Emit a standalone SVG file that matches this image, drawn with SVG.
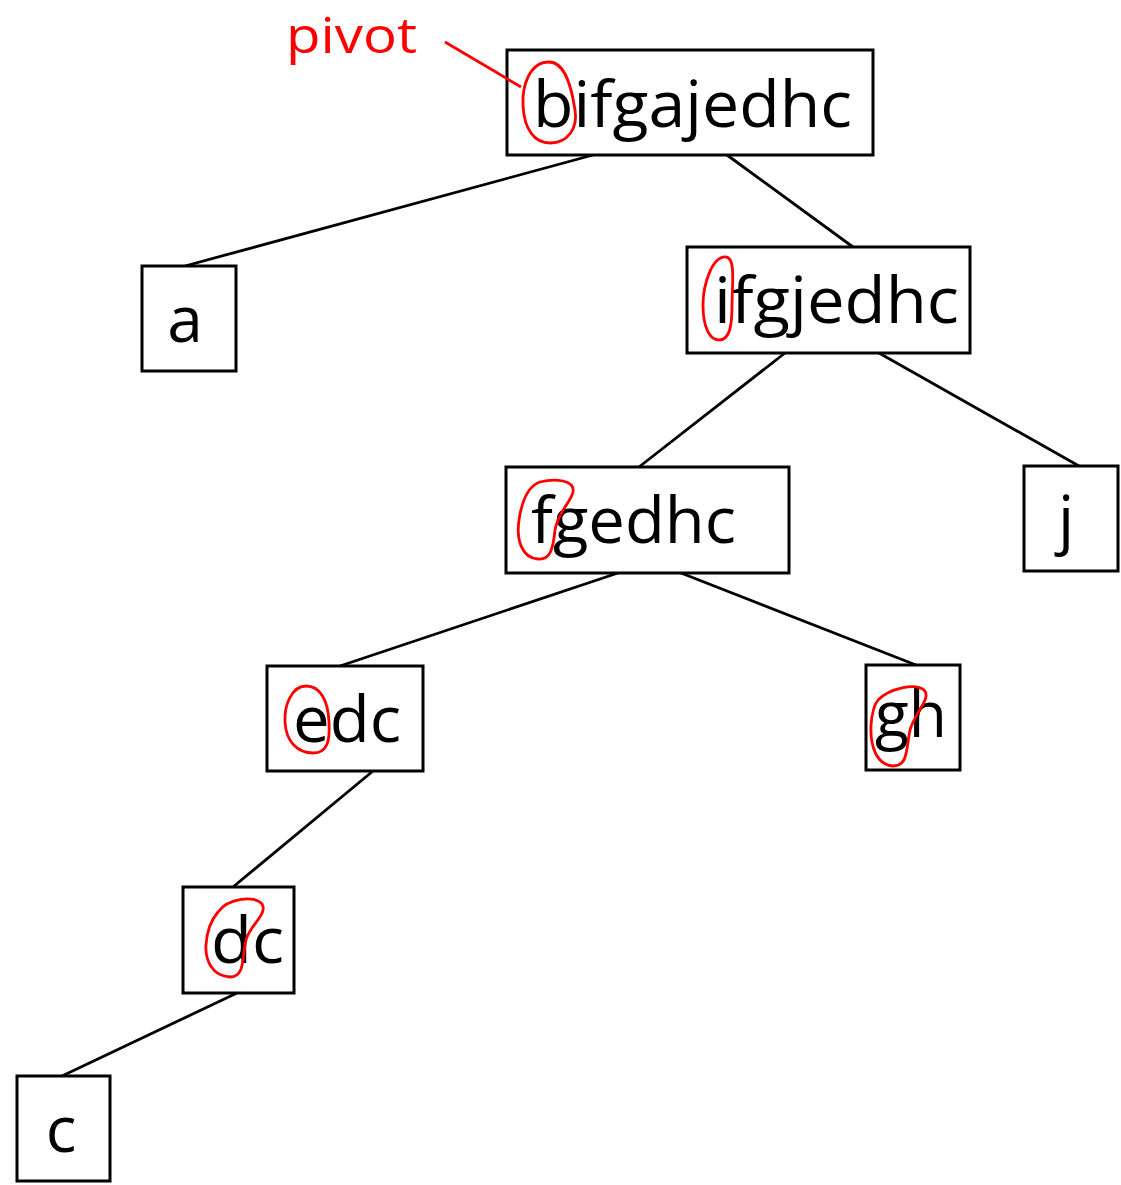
<svg xmlns="http://www.w3.org/2000/svg" width="1121" height="1185" viewBox="0 0 1121 1185">
  <style>
    .box { fill: #ffffff; stroke: #000000; stroke-width: 3; }
    .edge { fill: none; stroke: #000000; stroke-width: 2.8; }
    .lbl { font-family: "Open Sans", "Liberation Sans", sans-serif; font-size: 64px; fill: #000000; }
    .mark { fill: none; stroke: #ff0000; stroke-width: 2.8; stroke-linejoin: round; }
    .note { font-family: "Open Sans", "Liberation Sans", sans-serif; font-size: 50px; fill: #ff0000; }
  </style>

  <!-- tree edges -->
  <g id="edges">
    <line class="edge" x1="593" y1="155" x2="185" y2="266"/>
    <line class="edge" x1="727" y1="155" x2="853" y2="247"/>
    <line class="edge" x1="785" y1="353" x2="639" y2="467"/>
    <line class="edge" x1="879" y1="353" x2="1079" y2="466"/>
    <line class="edge" x1="618" y1="573" x2="340" y2="666"/>
    <line class="edge" x1="681" y1="573" x2="916" y2="665"/>
    <line class="edge" x1="373" y1="771" x2="233" y2="887"/>
    <line class="edge" x1="237" y1="993" x2="62" y2="1076"/>
  </g>

  <!-- nodes -->
  <g id="n-bifgajedhc">
    <rect class="box" x="507" y="50" width="366" height="105"/>
    <text class="lbl" x="533" y="127" textLength="319" lengthAdjust="spacingAndGlyphs">bifgajedhc</text>
    <path class="mark" d="M 549 62 C 530 62, 522 85, 523 105 C 524 130, 535 143, 550 143 C 568 143, 578 128, 575 110 C 572 90, 566 62, 549 62 Z"/>
  </g>

  <g id="n-a">
    <rect class="box" x="142" y="266" width="94" height="105"/>
    <text class="lbl" x="185" y="342" text-anchor="middle">a</text>
  </g>

  <g id="n-ifgjedhc">
    <rect class="box" x="687" y="247" width="283" height="106"/>
    <text class="lbl" x="714" y="323" textLength="245" lengthAdjust="spacingAndGlyphs">ifgjedhc</text>
    <path class="mark" d="M 726 257 C 712 256, 703 285, 703 305 C 703 328, 710 340, 719 340 C 730 340, 732 325, 732 305 C 732 285, 736 258, 726 257 Z"/>
  </g>

  <g id="n-fgedhc">
    <rect class="box" x="506" y="467" width="283" height="106"/>
    <text class="lbl" x="531" y="543" textLength="205" lengthAdjust="spacingAndGlyphs">fgedhc</text>
    <path class="mark" d="M 540 482 C 555 478, 575 480, 573 492 C 571 502, 558 512, 555 530 C 553 550, 550 560, 538 559 C 522 558, 516 540, 519 520 C 522 500, 528 486, 540 482 Z"/>
  </g>

  <g id="n-j">
    <rect class="box" x="1024" y="466" width="94" height="105"/>
    <text class="lbl" x="1066" y="542" text-anchor="middle">j</text>
  </g>

  <g id="n-edc">
    <rect class="box" x="267" y="666" width="156" height="105"/>
    <text class="lbl" x="293" y="742" textLength="108" lengthAdjust="spacingAndGlyphs">edc</text>
    <path class="mark" d="M 306 686 C 292 686, 284 705, 285 722 C 286 742, 298 753, 313 753 C 328 753, 330 740, 329 722 C 328 700, 320 686, 306 686 Z"/>
  </g>

  <g id="n-gh">
    <rect class="box" x="866" y="665" width="94" height="105"/>
    <text class="lbl" x="875" y="737" textLength="72" lengthAdjust="spacingAndGlyphs">gh</text>
    <path class="mark" d="M 878 700 C 890 688, 915 683, 924 690 C 932 698, 915 712, 910 730 C 906 750, 908 766, 893 766 C 876 765, 870 745, 871 725 C 872 712, 874 705, 878 700 Z"/>
  </g>

  <g id="n-dc">
    <rect class="box" x="183" y="887" width="111" height="106"/>
    <text class="lbl" x="211" y="963" textLength="73" lengthAdjust="spacingAndGlyphs">dc</text>
    <path class="mark" d="M 218 912 C 228 898, 255 895, 262 904 C 268 914, 250 925, 246 940 C 242 958, 245 977, 230 977 C 212 976, 205 960, 206 945 C 207 930, 211 920, 218 912 Z"/>
  </g>

  <g id="n-c">
    <rect class="box" x="17" y="1076" width="93" height="105"/>
    <text class="lbl" x="61" y="1152" text-anchor="middle">c</text>
  </g>

  <!-- pivot annotation -->
  <g id="pivot-note">
    <text class="note" x="286" y="53" textLength="131" lengthAdjust="spacingAndGlyphs">pivot</text>
    <line class="mark" x1="445" y1="42" x2="521" y2="87"/>
  </g>
</svg>
